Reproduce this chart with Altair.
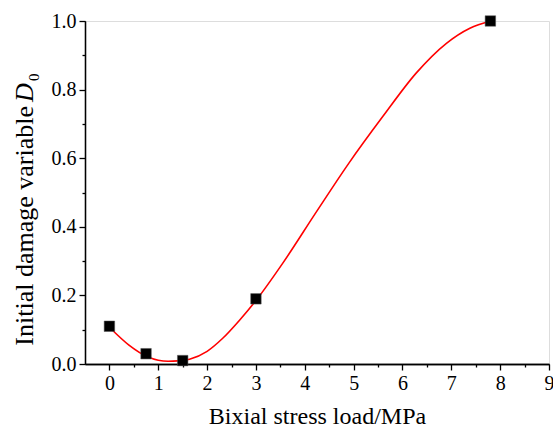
import altair as alt
import pandas as pd

# measured points
pt_x = [0, 0.75, 1.5, 3, 7.8]
pt_y = [0.11, 0.03, 0.01, 0.19, 1.0]

# fitted curve
cv_x = [0, 0.4, 0.78, 1.0, 1.2, 1.4, 1.64, 2.0, 2.32, 2.66, 3.0, 3.55, 4.23, 4.9, 5.6, 6.28, 6.9, 7.38, 7.8]
cv_y = [0.107, 0.055, 0.021, 0.011, 0.008, 0.009, 0.014, 0.037, 0.075, 0.127, 0.185, 0.294, 0.442, 0.585, 0.722, 0.848, 0.935, 0.979, 1.0]

x_major = [0, 1, 2, 3, 4, 5, 6, 7, 8, 9]
x_minor = [0.5, 1.5, 2.5, 3.5, 4.5, 5.5, 6.5, 7.5, 8.5]
y_major = [0.0, 0.2, 0.4, 0.6, 0.8, 1.0]
y_minor = [0.1, 0.3, 0.5, 0.7, 0.9]

FONT = "Liberation Serif"

pts = pd.DataFrame({"x": pt_x, "y": pt_y})
cv = pd.DataFrame({"x": cv_x, "y": cv_y})

xs = alt.Scale(domain=[-0.5, 9], nice=False, zero=False)
ys = alt.Scale(domain=[0, 1.0], nice=False, zero=False)

common_axis = dict(domainColor="black", domainWidth=1.3, tickColor="black", tickWidth=1.3,
                   grid=False, labelFont=FONT, labelColor="black", titleFont=FONT,
                   titleColor="black", titleFontWeight="normal")

x_main = alt.Axis(values=x_major, tickSize=6, labelFontSize=20, labelPadding=3, orient="bottom",
                  title="Bixial stress load/MPa", titleFontSize=24, titlePadding=11,
                  labelFlush=False, labelOverlap=False, **common_axis)
y_main = alt.Axis(values=y_major, tickSize=6, labelFontSize=20, labelPadding=3, orient="left",
                  format=".1f", title=None, labelFlush=False, labelOverlap=False, **common_axis)

x_min = alt.Axis(values=x_minor, tickSize=3, labels=False, orient="bottom", title=None, **common_axis)
y_min = alt.Axis(values=y_minor, tickSize=3, labels=False, orient="left", title=None, **common_axis)

curve = alt.Chart(cv).mark_line(color="#ff0000", strokeWidth=1.6, interpolate="monotone").encode(
    x=alt.X("x:Q", scale=xs, axis=x_main),
    y=alt.Y("y:Q", scale=ys, axis=y_main),
)

points = alt.Chart(pts).mark_point(shape="square", filled=True, color="black", size=110, opacity=1,
                                   stroke="#555555", strokeWidth=0.5).encode(
    x=alt.X("x:Q", scale=xs, axis=x_min),
    y=alt.Y("y:Q", scale=ys, axis=y_min),
)

t1 = alt.Chart(pd.DataFrame({"t": ["Initial damage variable"]})).mark_text(
    angle=270, align="right", baseline="alphabetic", font=FONT, fontSize=26, color="black").encode(
    text="t:N", x=alt.value(-52), y=alt.value(85))
t2 = alt.Chart(pd.DataFrame({"t": ["D"]})).mark_text(
    angle=270, align="left", baseline="alphabetic", font=FONT, fontSize=26, fontStyle="italic",
    color="black").encode(text="t:N", x=alt.value(-52), y=alt.value(81))
t3 = alt.Chart(pd.DataFrame({"t": ["0"]})).mark_text(
    angle=270, align="left", baseline="alphabetic", font=FONT, fontSize=15, color="black").encode(
    text="t:N", x=alt.value(-46), y=alt.value(60))

chart = alt.layer(curve, points, t1, t2, t3).resolve_axis(x="independent", y="independent").properties(
    width=464, height=343,
    autosize=alt.AutoSizeParams(type="none"),
    padding={"left": 85, "top": 21, "right": 4, "bottom": 68},
).configure_view(stroke=None).configure(font=FONT).configure_axis(labelFont=FONT, titleFont=FONT)

chart.save("out.html", embed_options={"renderer": "svg", "actions": False})
